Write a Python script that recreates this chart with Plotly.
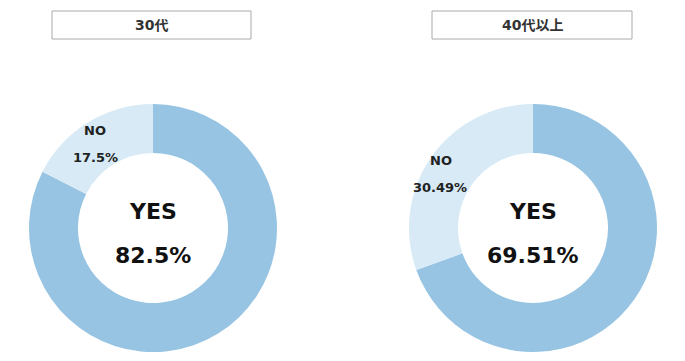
import plotly.graph_objects as go

groups = ["30代", "40代以上"]
labels = ["YES", "NO"]
values_30 = [82.5, 17.5]
values_40 = [69.51, 30.49]
text_30 = ["82.5%", "17.5%"]
text_40 = ["69.51%", "30.49%"]

colors = ["#96C4E2", "#D7EAF6"]
W, H = 685, 361
FONT = "DejaVu Sans, Noto Sans CJK JP"

fig = go.Figure()

domains = [
    dict(x=[29 / W, 277 / W], y=[1 - 352 / H, 1 - 104 / H]),
    dict(x=[409 / W, 657 / W], y=[1 - 352 / H, 1 - 104 / H]),
]
all_vals = [values_30, values_40]
all_txt = [text_30, text_40]
# label anchor positions (pixels) for the NO slice label
no_pos = [((95, 130), (95, 157)), ((441, 160), (440, 187))]


def ann(x, y, text, size, color="#111111"):
    fig.add_annotation(x=x / W, y=1 - y / H, xref="paper", yref="paper",
                       xanchor="center", yanchor="middle",
                       text="<b>" + text + "</b>", showarrow=False,
                       font=dict(family=FONT, size=size, color=color))


for i in range(2):
    vals = all_vals[i]
    txt = all_txt[i]
    fig.add_trace(go.Pie(
        labels=labels,
        values=vals,
        textinfo="none",
        hole=0.605,
        sort=False,
        direction="clockwise",
        rotation=0,
        marker=dict(colors=colors, line=dict(width=0)),
        domain=domains[i],
        showlegend=False,
        hoverinfo="label+percent",
    ))
    cx = (domains[i]["x"][0] + domains[i]["x"][1]) / 2 * W
    ann(cx, 211, labels[0], 22)
    ann(cx, 255, txt[0], 22)
    (nx, ny), (px, py) = no_pos[i]
    ann(nx, ny, labels[1], 13, "#222222")
    ann(px, py, txt[1], 13, "#222222")

boxes = [(52, 251), (432, 632)]
for i, (x0, x1) in enumerate(boxes):
    fig.add_shape(type="rect", xref="paper", yref="paper",
                  x0=x0 / W, x1=x1 / W, y0=1 - 39 / H, y1=1 - 11 / H,
                  line=dict(color="#AAAAAA", width=1), fillcolor="white")
    ann((x0 + x1) / 2, 25, groups[i], 14, "#333333")

fig.update_layout(width=W, height=H, margin=dict(l=0, r=0, t=0, b=0),
                  paper_bgcolor="white", plot_bgcolor="white")

fig.write_html("out.html")
